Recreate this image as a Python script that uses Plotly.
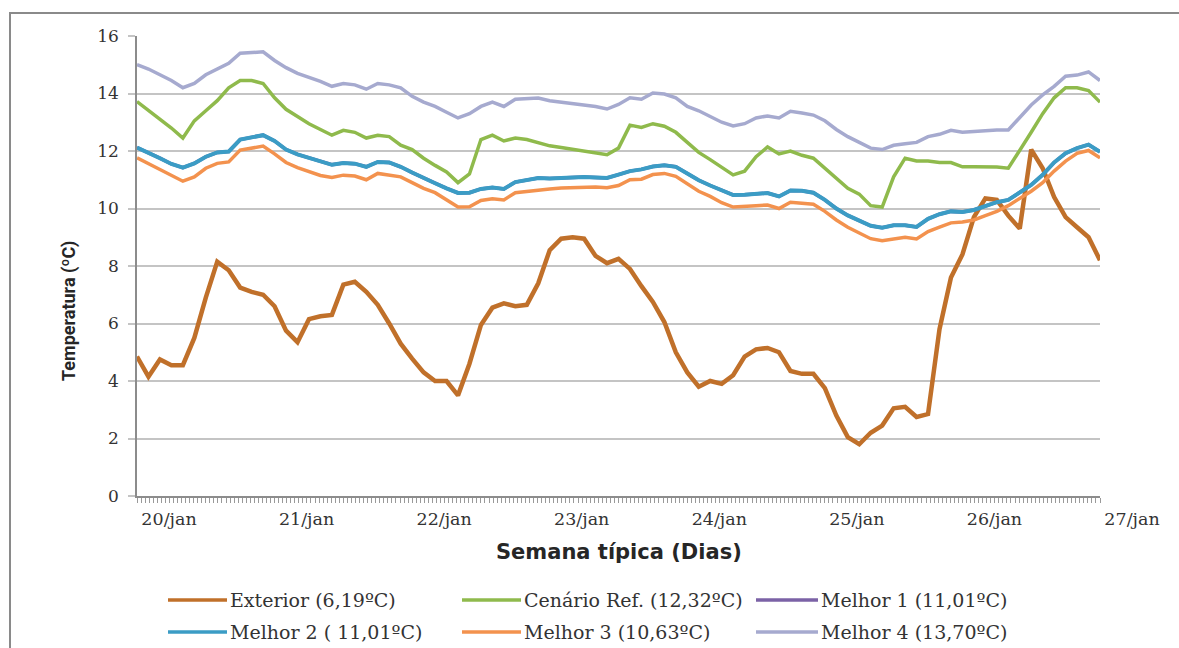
import plotly.graph_objects as go

# Hours since 20/jan 00:00, sampled every 2 h over the typical week
hours = list(range(0, 169, 2))

day_ticks = [0, 24, 48, 72, 96, 120, 144, 168]
day_labels = ["20/jan", "21/jan", "22/jan", "23/jan", "24/jan", "25/jan", "26/jan", "27/jan"]

y_ticks = [0, 2, 4, 6, 8, 10, 12, 14, 16]

exterior = [
    4.85, 4.15, 4.75, 4.55, 4.55, 5.5, 6.9, 8.15, 7.85, 7.25, 7.1, 7.0, 6.6,
    5.75, 5.35, 6.15, 6.25, 6.3, 7.35, 7.45, 7.1, 6.65, 6.0, 5.3, 4.78,
    4.3, 4.0, 4.0, 3.5, 4.6, 5.95, 6.55, 6.7, 6.6, 6.65, 7.4, 8.55,
    8.95, 9.0, 8.95, 8.35, 8.1, 8.25, 7.9, 7.3, 6.75, 6.05, 5.0, 4.3,
    3.8, 4.0, 3.9, 4.2, 4.85, 5.1, 5.15, 5.0, 4.35, 4.25, 4.25, 3.75,
    2.8, 2.05, 1.8, 2.2, 2.45, 3.05, 3.1, 2.75, 2.85, 5.8, 7.6, 8.4,
    9.7, 10.35, 10.3, 9.75, 9.3, 12.05, 11.4, 10.4, 9.7, 9.35, 9.0, 8.2,
]

cenario_ref = [
    13.72, 13.42, 13.1, 12.8, 12.45, 13.05, 13.4, 13.75, 14.2, 14.45, 14.45, 14.35, 13.85,
    13.45, 13.2, 12.95, 12.75, 12.55, 12.72, 12.65, 12.45, 12.55, 12.5, 12.2, 12.05,
    11.75, 11.5, 11.27, 10.9, 11.2, 12.4, 12.55, 12.35, 12.45, 12.4, 12.3, 12.18,
    12.12, 12.05, 11.98, 11.92, 11.87, 12.1, 12.9, 12.82, 12.95, 12.86, 12.65, 12.3,
    11.95, 11.7, 11.45, 11.17, 11.3, 11.8, 12.14, 11.9, 12.0, 11.85, 11.75, 11.4,
    11.05, 10.7, 10.5, 10.1, 10.05, 11.1, 11.75, 11.65, 11.65, 11.6, 11.6, 11.45,
    11.45, 11.45, 11.44, 11.4, 12.0, 12.65, 13.3, 13.85, 14.2, 14.2, 14.1, 13.7,
]

melhor_2 = [
    12.12, 11.95, 11.75, 11.55, 11.42, 11.57, 11.8, 11.95, 11.98, 12.4, 12.48, 12.55, 12.35,
    12.05, 11.88, 11.77, 11.65, 11.52, 11.58, 11.56, 11.45, 11.62, 11.6, 11.45, 11.25,
    11.05, 10.88, 10.7, 10.54, 10.55, 10.68, 10.73, 10.68, 10.92, 11.0, 11.06, 11.04,
    11.06, 11.08, 11.1, 11.08, 11.06, 11.18, 11.3, 11.36, 11.46, 11.5, 11.45, 11.22,
    10.98, 10.8, 10.62, 10.47, 10.48, 10.5, 10.54, 10.42, 10.63, 10.62, 10.55, 10.3,
    10.0, 9.76, 9.58, 9.4, 9.33, 9.42, 9.42, 9.36, 9.64, 9.8, 9.9, 9.88,
    9.95, 10.1, 10.22, 10.3, 10.55, 10.82, 11.17, 11.6, 11.92, 12.1, 12.22, 11.97,
]

# Melhor 1 and Melhor 2 give identical temperatures (same 11,01 ºC mean)
melhor_1 = list(melhor_2)

melhor_3 = [
    11.76, 11.55, 11.35, 11.15, 10.95, 11.1, 11.4, 11.57, 11.62, 12.03, 12.1, 12.17, 11.9,
    11.6, 11.42, 11.3, 11.15, 11.08, 11.16, 11.13, 11.0, 11.22, 11.15, 11.1, 10.9,
    10.7, 10.55, 10.3, 10.05, 10.06, 10.28, 10.34, 10.3, 10.55, 10.6, 10.64, 10.68,
    10.71, 10.72, 10.74, 10.75, 10.72, 10.8, 11.0, 11.02, 11.18, 11.22, 11.12, 10.85,
    10.6, 10.42, 10.2, 10.05, 10.06, 10.1, 10.12, 10.0, 10.22, 10.2, 10.15, 9.9,
    9.6, 9.35, 9.15, 8.95, 8.88, 8.95, 9.0, 8.94, 9.2, 9.35, 9.5, 9.53,
    9.6, 9.75, 9.9, 10.1, 10.35, 10.6, 10.9, 11.3, 11.65, 11.92, 12.02, 11.76,
]

melhor_4 = [
    15.0, 14.85, 14.65, 14.45, 14.2, 14.35, 14.65, 14.85, 15.05, 15.4, 15.42, 15.45, 15.15,
    14.9, 14.7, 14.57, 14.42, 14.25, 14.35, 14.3, 14.15, 14.35, 14.3, 14.2, 13.9,
    13.7, 13.55, 13.35, 13.15, 13.3, 13.55, 13.7, 13.55, 13.8, 13.82, 13.84, 13.75,
    13.7, 13.65, 13.6, 13.55, 13.46, 13.62, 13.85, 13.8, 14.02, 13.98, 13.85, 13.55,
    13.4, 13.2, 13.0, 12.87, 12.95, 13.15, 13.22, 13.15, 13.38, 13.32, 13.25, 13.05,
    12.75, 12.5, 12.3, 12.1, 12.05, 12.2, 12.25, 12.3, 12.5, 12.58, 12.72, 12.65,
    12.68, 12.72, 12.73, 12.73, 13.18, 13.6, 13.95, 14.25, 14.6, 14.64, 14.75, 14.45,
]

series_names = [
    "Exterior (6,19ºC)",
    "Cenário Ref. (12,32ºC)",
    "Melhor 1 (11,01ºC)",
    "Melhor 2 ( 11,01ºC)",
    "Melhor 3 (10,63ºC)",
    "Melhor 4 (13,70ºC)",
]
series_values = [exterior, cenario_ref, melhor_1, melhor_2, melhor_3, melhor_4]
series_colors = ["#C0702A", "#8FBA4C", "#7B62A6", "#3B9CC5", "#F3924E", "#A6AACF"]
series_widths = [4.5, 3.5, 3.5, 4, 3.5, 3.5]

# Plot area in pixels (figure is 1179 x 648)
W, H = 1179, 648
L, R, T, B = 137, 1100, 36, 496


def px_x(px):
    return (px - L) / (R - L)


def px_y(py):
    return (B - py) / (B - T)


fig = go.Figure()
for name, vals, color, width in zip(series_names, series_values, series_colors, series_widths):
    fig.add_trace(go.Scatter(
        x=hours, y=vals, mode="lines", name=name,
        line=dict(color=color, width=width),
        showlegend=False,
    ))

serif = "DejaVu Serif, Liberation Serif, serif"
text_color = "#333333"

shapes = []
annotations = []

# Outer chart frame (top and left edges visible)
shapes.append(dict(
    type="rect", xref="paper", yref="paper",
    x0=px_x(10), x1=px_x(W + 40), y0=px_y(H + 40), y1=px_y(13),
    line=dict(color="#8a8a8a", width=2), fillcolor="rgba(0,0,0,0)", layer="below",
))

# Legend: three columns, two rows
col_line_x = [(168, 227), (462, 521), (756, 818)]
row_y = [600, 632]
for i, (name, color) in enumerate(zip(series_names, series_colors)):
    r, c = divmod(i, 3)
    x0, x1 = col_line_x[c]
    y = row_y[r]
    shapes.append(dict(
        type="line", xref="paper", yref="paper",
        x0=px_x(x0), x1=px_x(x1), y0=px_y(y), y1=px_y(y),
        line=dict(color=color, width=3.5),
    ))
    annotations.append(dict(
        xref="paper", yref="paper", x=px_x(x1 + 1), y=px_y(y),
        xanchor="left", yanchor="middle", showarrow=False,
        text=name, font=dict(family=serif, size=19, color=text_color),
    ))

# Axis titles
annotations.append(dict(
    xref="paper", yref="paper", x=px_x(619), y=px_y(552),
    xanchor="center", yanchor="middle", showarrow=False,
    text="<b>Semana típica (Dias)</b>",
    font=dict(family="DejaVu Sans, Open Sans, sans-serif", size=21, color="#262626"),
))
annotations.append(dict(
    xref="paper", yref="paper", x=px_x(69), y=px_y(311),
    xanchor="center", yanchor="middle", showarrow=False, textangle=-90,
    text="<b>Temperatura (ºC)</b>",
    font=dict(family="Roboto, Noto Sans, sans-serif", size=18, color="#262626"),
))

fig.update_layout(
    width=W, height=H,
    margin=dict(l=L, r=W - R, t=T, b=H - B, pad=0),
    paper_bgcolor="white", plot_bgcolor="white",
    shapes=shapes, annotations=annotations,
    showlegend=False,
    xaxis=dict(
        range=[0, 168], tickmode="array", tickvals=day_ticks, ticktext=day_labels,
        ticks="outside", ticklen=5, tickcolor="#9a9a9a", tickwidth=1,
        minor=dict(tick0=0, dtick=24 / 34, ticks="outside", ticklen=5,
                   tickcolor="#9a9a9a", tickwidth=1, showgrid=False),
        ticklabelshift=32, ticklabelstandoff=1,
        showline=True, linecolor="#8c8c8c", linewidth=1.5,
        showgrid=False, zeroline=False,
        tickfont=dict(family=serif, size=17.5, color=text_color),
        fixedrange=True,
    ),
    yaxis=dict(
        range=[0, 16], tickmode="array", tickvals=y_ticks,
        ticks="outside", ticklen=7, tickcolor="#c4c4c4", tickwidth=1.5,
        ticklabelstandoff=6,
        showline=True, linecolor="#8c8c8c", linewidth=1.5,
        showgrid=True, gridcolor="#c4c4c4", gridwidth=1.5, zeroline=False,
        tickfont=dict(family=serif, size=17, color=text_color),
        fixedrange=True,
    ),
)

fig.write_html("out.html")
